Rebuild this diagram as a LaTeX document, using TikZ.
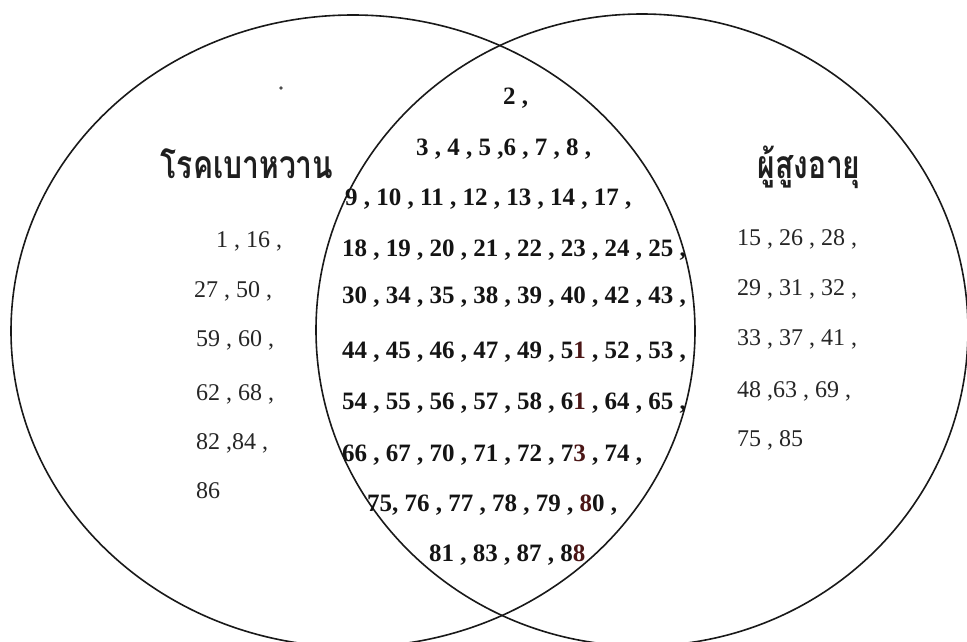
\documentclass[tikz,border=0pt]{standalone}
\usepackage{fontspec}
\usetikzlibrary{shapes.geometric}
\setmainfont{Liberation Serif}
\newfontfamily\thaifont[Script=Thai]{Loma}
\definecolor{tint}{RGB}{75,22,22}
\newcommand\tallthai[1]{\scalebox{1}[1.3]{#1}}
\begin{document}
\begin{tikzpicture}[x=1pt,y=-1pt,
  setline/.style={draw=black!90,line width=1.6pt},
  plainnum/.style={anchor=base west,inner sep=0pt,font=\fontsize{24}{28}\selectfont,text=black!85},
  boldnum/.style={anchor=base west,inner sep=0pt,font=\fontsize{25}{29}\selectfont\bfseries,text=black!92},
  settitle/.style={anchor=base,inner sep=0pt,font=\thaifont\bfseries\fontsize{30}{34}\selectfont,text=black!88}]
\useasboundingbox (0,0) rectangle (967,642);
\fill[white] (0,0) rectangle (967,642);
% sets
\node[setline,ellipse,minimum width=684pt,minimum height=632pt,inner sep=0pt] (setA) at (353,331) {};
\node[setline,ellipse,minimum width=652pt,minimum height=632pt,inner sep=0pt] (setB) at (642,330) {};
% stray dot
\fill[black!70] (281,88) circle[radius=1.8pt];
% titles
\node[settitle] (tA) at (247,178) {\tallthai{โรคเบาหวาน}};
\node[settitle] (tB) at (809,178) {\tallthai{ผู้สูงอายุ}};
% left only
\node[plainnum] (l1) at (216,247) {1 , 16 ,};
\node[plainnum] (l2) at (194,297) {27 , 50 ,};
\node[plainnum] (l3) at (196,346) {59 , 60 ,};
\node[plainnum] (l4) at (196,400) {62 , 68 ,};
\node[plainnum] (l5) at (196,449) {82 ,84 ,};
\node[plainnum] (l6) at (196,498) {86};
% right only
\node[plainnum] (r1) at (737,245) {15 , 26 , 28 ,};
\node[plainnum] (r2) at (737,295) {29 , 31 , 32 ,};
\node[plainnum] (r3) at (737,345) {33 , 37 , 41 ,};
\node[plainnum] (r4) at (737,397) {48 ,63 , 69 ,};
\node[plainnum] (r5) at (737,446) {75 , 85};
% intersection
\node[boldnum] (c1) at (503,105) {2 ,};
\node[boldnum] (c2) at (416,155) {3 , 4 , 5 ,6 , 7 , 8 ,};
\node[boldnum] (c3) at (345,205) {9 , 10 , 11 , 12 , 13 , 14 , 17 ,};
\node[boldnum] (c4) at (342,256) {18 , 19 , 20 , 21 , 22 , 23 , 24 , 25 ,};
\node[boldnum] (c5) at (342,303) {30 , 34 , 35 , 38 , 39 , 40 , 42 , 43 ,};
\node[boldnum] (c6) at (342,358) {44 , 45 , 46 , 47 , 49 , 5\textcolor{tint}{1} , 52 , 53 ,};
\node[boldnum] (c7) at (342,409) {54 , 55 , 56 , 57 , 58 , 6\textcolor{tint}{1} , 64 , 65 ,};
\node[boldnum] (c8) at (342,461) {66 , 67 , 70 , 71 , 72 , 7\textcolor{tint}{3} , 74 ,};
\node[boldnum] (c9) at (367,511) {75, 76 , 77 , 78 , 79 , \textcolor{tint}{8}0 ,};
\node[boldnum] (c10) at (429,561) {81 , 83 , 87 , 8\textcolor{tint}{8}};
\end{tikzpicture}
\end{document}
